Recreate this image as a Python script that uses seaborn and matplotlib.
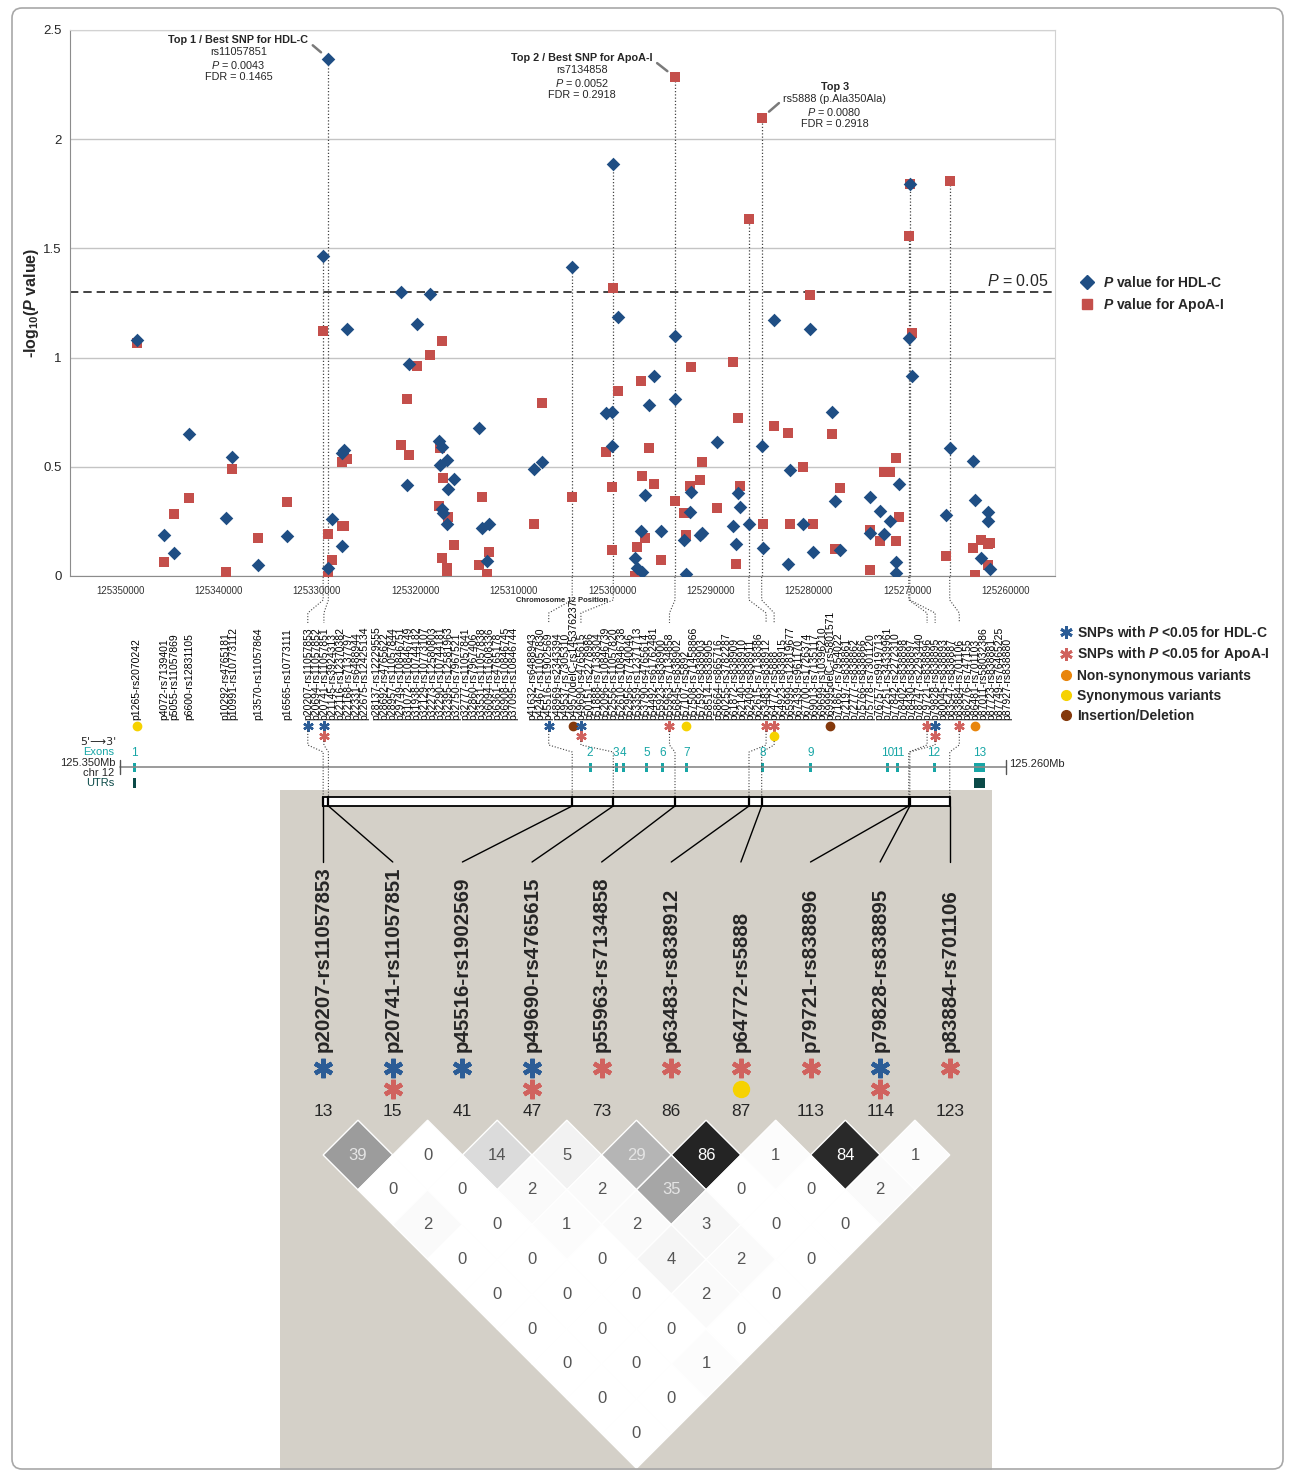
import re

import matplotlib
matplotlib.use("Agg")
import matplotlib.pyplot as plt
import matplotlib.transforms as mtransforms
import numpy as np
import pandas as pd
import seaborn as sns
from matplotlib.lines import Line2D
from matplotlib.patches import FancyBboxPatch, Polygon, Rectangle

W, H, DPI = 1295, 1473, 100
GENE_ORIGIN = 125349580  # chr12 coordinate of relative position p0

# ---------------- data ----------------
snp_names = [
    "p1265-rs2070242", "p4072-rs7139401", "p5055-rs11057869", "p6600-rs12831105",
    "p10292-rs4765181", "p10991-rs10773112", "p13570-rs11057864", "p16565-rs10773111",
    "p20207-rs11057853", "p20694-rs11057852", "p20741-rs11057851", "p21145-rs3924313",
    "p22116-rs12370382", "p22168-rs7137797", "p22331-rs6488944", "p22675-rs12425134",
    "p28137-rs12229555", "p28692-rs4765622", "p28957-rs11057844", "p29749-rs10846751",
    "p31072-rs10846749", "p31938-rs10744182", "p32129-rs10773107", "p32273-rs12580803",
    "p32290-rs10744181", "p32395-rs12581963", "p32750-rs7967521", "p32777-rs11057841",
    "p32860-rs7967406", "p33531-rs11057838", "p36094-rs11608336", "p36361-rs4765178",
    "p36908-rs10846745", "p37095-rs10846744", "p41632-rs6488943", "p42467-rs11057830",
    "p45516-rs1902569", "p48969-rs2343394", "p49537-rs7305310", "p49570delC-rs145376237",
    "p49690-rs4765615", "p50151-rs2278986", "p51888-rs7138304", "p52096-rs10846739",
    "p52556-rs11057820", "p52610-rs10846738", "p52956-rs7740046", "p53359-rs12371713",
    "p53790-rs4765614", "p54492-rs61762481", "p55923-rs838900", "p55963-rs7134858",
    "p56845-rs838902", "p57107-rs5892", "p57508-rs71458866", "p57592-rs838903",
    "p58514-rs838905", "p58664-rs865716", "p60255-rs3782287", "p61872-rs838909",
    "p62140-rs838910", "p62409-rs838911", "p62615-rs7138386", "p63483-rs838912",
    "p64772-rs5888", "p64923-rs838915", "p65999-rs12819677", "p67439-rs961170",
    "p67700-rs1726374", "p69013-rs7135117", "p69699-rs10396210", "p69995delC-rs5801571",
    "p71867-rs7954022", "p72197-rs838861", "p72777-rs838862", "p75766-rs838866",
    "p75778-rs7301120", "p76757-rs9919713", "p77251-rs34339961", "p77842-rs2272310",
    "p78402-rs838898", "p78430-rs838897", "p78747-rs2293440", "p79721-rs838896",
    "p79828-rs838895", "p80045-rs838893", "p83547-rs838887", "p83884-rs701106",
    "p86276-rs747155", "p86481-rs701103", "p87011-rs58032386", "p87723-rs838881",
    "p87749-rs76465225", "p87927-rs838880",
]
hdl_logp = [
    1.081, 0.190, 0.107, 0.650, 0.267, 0.543, 0.050, 0.184,
    1.466, 0.038, 2.369, 0.259, 0.564, 0.136, 0.576, 1.133,
    1.302, 0.417, 0.969, 1.155, 1.293, 0.616, 0.507, 0.305,
    0.590, 0.288, 0.533, 0.240, 0.400, 0.443, 0.676, 0.219,
    0.069, 0.236, 0.490, 0.521, 1.414, 0.748, 0.593, 0.753,
    1.888, 1.184, 0.081, 0.038, 0.205, 0.017, 0.369, 0.784,
    0.914, 0.205, 0.810, 1.098, 0.167, 0.009, 0.293, 0.383,
    0.188, 0.195, 0.612, 0.228, 0.147, 0.378, 0.314, 0.236,
    0.593, 0.128, 1.174, 0.055, 0.486, 0.240, 1.129, 0.112,
    0.753, 0.345, 0.119, 0.360, 0.197, 0.297, 0.193, 0.250,
    0.062, 0.016, 0.421, 1.090, 1.793, 0.914, 0.278, 0.586,
    0.526, 0.348, 0.081, 0.291, 0.253, 0.033,
]
apoa_logp = [
    1.067, 0.064, 0.283, 0.355, 0.017, 0.491, 0.172, 0.338,
    1.124, 0.000, 0.191, 0.074, 0.524, 0.231, 0.228, 0.538,
    0.598, 0.809, 0.555, 0.960, 1.012, 0.322, 0.586, 1.076,
    0.084, 0.448, 0.038, 0.021, 0.271, 0.141, 0.052, 0.360,
    0.007, 0.110, 0.236, 0.793, 0.362, 0.567, 0.119, 0.409,
    1.319, 0.848, 0.000, 0.133, 0.891, 0.460, 0.172, 0.584,
    0.422, 0.072, 0.343, 2.284, 0.288, 0.190, 0.414, 0.957,
    0.440, 0.524, 0.312, 0.978, 0.055, 0.724, 0.414, 1.633,
    2.097, 0.240, 0.688, 0.655, 0.236, 0.497, 1.286, 0.240,
    0.650, 0.124, 0.405, 0.210, 0.029, 0.160, 0.474, 0.474,
    0.540, 0.162, 0.271, 1.557, 1.793, 1.112, 0.090, 1.809,
    0.129, 0.005, 0.164, 0.147, 0.052, 0.150,
]
hdl_sig = ["p20207-rs11057853", "p20741-rs11057851", "p45516-rs1902569",
           "p49690-rs4765615", "p79828-rs838895"]
apoa_sig = ["p20741-rs11057851", "p49690-rs4765615", "p55963-rs7134858",
            "p63483-rs838912", "p64772-rs5888", "p79721-rs838896",
            "p79828-rs838895", "p83884-rs701106"]
nonsynonymous = ["p86481-rs701103"]
synonymous = ["p1265-rs2070242", "p57107-rs5892", "p64772-rs5888"]
indels = ["p49570delC-rs145376237", "p69995delC-rs5801571"]

ld_snp_numbers = [13, 15, 41, 47, 73, 86, 87, 113, 114, 123]
ld_r2 = [
    [39, 0, 14, 5, 29, 86, 1, 84, 1],
    [0, 0, 2, 2, 35, 0, 0, 2],
    [2, 0, 1, 2, 3, 0, 0],
    [0, 0, 0, 4, 2, 0],
    [0, 0, 0, 2, 0],
    [0, 0, 0, 0],
    [0, 0, 1],
    [0, 0],
    [0],
]

exon_numbers = ["1", "2", "3", "4", "5", "6", "7", "8", "9", "10", "11", "12", "13"]
exon_pos = [1006, 47335, 49977, 50721, 53092, 54718, 57157, 64841, 69758,
            77582, 78598, 82286, 86891]
exon_len = [300, 300, 300, 300, 300, 300, 300, 300, 300, 300, 300, 300, 1100]
utr_pos = [1006, 86891]
utr_len = [300, 1100]

top_notes = [
    ("p20741-rs11057851", ["Top 1 / Best SNP for HDL-C", "rs11057851",
                           r"$\mathsf{P}$ = 0.0043", "FDR = 0.1465"]),
    ("p55963-rs7134858", ["Top 2 / Best SNP for ApoA-I", "rs7134858",
                          r"$\mathsf{P}$ = 0.0052", "FDR = 0.2918"]),
    ("p64772-rs5888", ["Top 3", "rs5888 (p.Ala350Ala)",
                       r"$\mathsf{P}$ = 0.0080", "FDR = 0.2918"]),
]

BLUE = "#1f4e84"
RED = "#c44f4b"
STAR_BLUE = "#2b5c96"
STAR_RED = "#d0625e"
ORANGE = "#e8850c"
YELLOW = "#f6d200"
BROWN = "#84390c"
TEAL = "#17a6a6"
DARK_TEAL = "#0b4a48"
LD_BG = "#d4d0c8"
DOT = (0, (1, 1.6))

# ---------------- style ----------------
sns.set_style("white")
plt.rcParams["font.family"] = ["Liberation Sans", "DejaVu Sans"]
plt.rcParams["mathtext.fontset"] = "custom"
plt.rcParams["mathtext.rm"] = "Liberation Sans"
plt.rcParams["mathtext.it"] = "Liberation Sans:italic:bold"
plt.rcParams["mathtext.bf"] = "Liberation Sans:bold"
plt.rcParams["mathtext.sf"] = "Liberation Sans:italic"

df = pd.DataFrame({"snp": snp_names, "HDL-C": hdl_logp, "ApoA-I": apoa_logp})
df["rel_pos"] = [int(re.match(r"p(\d+)", n).group(1)) for n in snp_names]
df["chr_pos"] = GENE_ORIGIN - df["rel_pos"]
df["top"] = df[["HDL-C", "ApoA-I"]].max(axis=1)
ld_snps = [n for n in snp_names if n in hdl_sig or n in apoa_sig]
ld_idx = [snp_names.index(n) for n in ld_snps]

fig = plt.figure(figsize=(W / DPI, H / DPI), dpi=DPI)

# full-figure overlay in pixel units (y down)
ov = fig.add_axes([0, 0, 1, 1], zorder=3)
ov.set_xlim(0, W)
ov.set_ylim(H, 0)
ov.axis("off")

# ---------------- main association plot ----------------
ax = fig.add_axes([70 / W, 1 - 576 / H, 985 / W, 546 / H], zorder=1)
ax.set_facecolor("none")
sns.scatterplot(data=df, x="chr_pos", y="ApoA-I", marker="s", s=48, color=RED,
                linewidth=0, ax=ax, zorder=3)
sns.scatterplot(data=df, x="chr_pos", y="HDL-C", marker="D", s=48, color=BLUE,
                linewidth=0, ax=ax, zorder=4)
ax.set_xlim(125355100, 125255000)
ax.set_ylim(0, 2.5)
xt = np.arange(125350000, 125259999, -10000)
ax.set_xticks(xt)
ax.set_xticklabels([str(t) for t in xt], fontsize=7, color="#333333")
ax.set_xticks(np.arange(125355000, 125254999, -5000), minor=True)
ax.set_yticks([0, 0.5, 1, 1.5, 2, 2.5])
ax.set_yticklabels(["0", "0.5", "1", "1.5", "2", "2.5"], fontsize=9.5)
ax.set_yticks(np.arange(0, 2.51, 0.1), minor=True)
ax.tick_params(axis="both", which="both", direction="out", color="#8c8c8c")
ax.tick_params(axis="x", which="major", length=4, pad=3)
ax.tick_params(axis="x", which="minor", length=3)
ax.tick_params(axis="y", which="major", length=4, pad=2)
ax.tick_params(axis="y", which="minor", length=2.5)
ax.yaxis.grid(True, which="major", color="#c4c4c4", lw=1)
ax.xaxis.grid(False)
for side in ["left", "bottom"]:
    ax.spines[side].set_color("#8c8c8c")
for side in ["top", "right"]:
    ax.spines[side].set_color("#d2d2d2")
ax.set_xlabel("Chromosome 12 Position", fontsize=5.5, fontweight="bold", labelpad=1)
ax.set_ylabel(r"-log$_{\mathbf{10}}$($\it{P}$ value)", fontsize=11.5, fontweight="bold")
ax.yaxis.set_label_coords(-0.029, 0.5)

sig_line = -np.log10(0.05)
ax.axhline(sig_line, color="#222222", lw=1.2, ls=(0, (5, 3)), zorder=2)
ax.text(0.993, sig_line + 0.015, r"$\mathsf{P}$ = 0.05", fontsize=11.5,
        ha="right", va="bottom",
        transform=mtransforms.blended_transform_factory(ax.transAxes, ax.transData))

ld_df = df.iloc[ld_idx]
ax.vlines(ld_df["chr_pos"], 0, ld_df["top"], colors="#444444", lw=0.9,
          linestyles=[DOT], zorder=2)

note_offsets = [(-90, 18.5), (-93, 19), (73, 31)]
note_leader = [0, 0, 1]
note_relpos = [(1.0, 0.35), (1.0, 0.35), (0.0, 0.5)]
for (snp, lines), (dx, dy), li, rp in zip(top_notes, note_offsets, note_leader, note_relpos):
    row = df[df["snp"] == snp].iloc[0]
    xy = (row["chr_pos"], row["top"])
    for i, txt in enumerate(lines):
        kw = dict(xy=xy, xytext=(dx, dy - i * 12.3), textcoords="offset pixels",
                  ha="center", va="center", fontsize=7.8,
                  fontweight="bold" if i == 0 else "normal")
        if i == li:
            kw["arrowprops"] = dict(arrowstyle="-", color="#7a7a7a", lw=1.8,
                                    shrinkA=1, shrinkB=7, relpos=rp)
        ax.annotate(txt, **kw)


# ---------------- SNP label panel ----------------
def spread(targets, gap):
    t = np.asarray(targets, float)
    order = np.argsort(t, kind="stable")
    ts = t[order]
    clusters = [[i] for i in range(len(ts))]

    def place(cl):
        n = len(cl)
        return ts[cl].mean() + (np.arange(n) - (n - 1) / 2) * gap

    changed = True
    while changed:
        changed = False
        merged = [clusters[0]]
        for cl in clusters[1:]:
            if place(merged[-1])[-1] + gap > place(cl)[0] + 1e-9:
                merged[-1] = merged[-1] + cl
                changed = True
            else:
                merged.append(cl)
        clusters = merged
    out = np.empty_like(t)
    for cl in clusters:
        out[order[cl]] = place(cl)
    return out


def to_px(values):
    v = np.asarray(values, float)
    return ax.transData.transform(np.column_stack([v, np.zeros_like(v)]))[:, 0]


x_data = to_px(df["chr_pos"])
x_lab = spread(x_data, 8.05)

for xl, name in zip(x_lab, snp_names):
    ov.text(xl, 720, name, rotation=90, ha="center", va="bottom", fontsize=7.5,
            color="black")

marks_y = {}
for k, name in enumerate(snp_names):
    marks = []
    if name in hdl_sig:
        marks.append(("star", STAR_BLUE))
    if name in apoa_sig:
        marks.append(("star", STAR_RED))
    if name in nonsynonymous:
        marks.append(("dot", ORANGE))
    if name in synonymous:
        marks.append(("dot", YELLOW))
    if name in indels:
        marks.append(("dot", BROWN))
    for r, (kind, col) in enumerate(marks):
        y = 726 + r * 10
        if kind == "star":
            ov.plot(x_lab[k], y, marker=(6, 2, 0), ms=7.5, mew=1.7, mec=col, ls="")
        else:
            ov.plot(x_lab[k], y, marker="o", ms=6, mfc=col, mec=col, ls="")
    marks_y[name] = 726 + (len(marks) - 1) * 10

# gene track
g_left, g_right = to_px([125350000, 125260000])
ov.plot([g_left, g_right], [767, 767], color="#8a8a8a", lw=1.2)
for gx in (g_left, g_right):
    ov.plot([gx, gx], [760, 774], color="#555555", lw=1)
ov.text(g_right + 3, 764, "125.260Mb", fontsize=8, va="center", ha="left")
ov.text(116, 742, "5'\u27f63'", fontsize=8, ha="right", va="center",
        family=["DejaVu Sans"])
ov.text(114, 752, "Exons", fontsize=8, ha="right", va="center", color=TEAL)
ov.text(116, 763, "125.350Mb", fontsize=8, ha="right", va="center")
ov.text(114, 773, "chr 12", fontsize=8, ha="right", va="center")
ov.text(114, 783, "UTRs", fontsize=8, ha="right", va="center", color=DARK_TEAL)

ex_c = to_px(GENE_ORIGIN - np.asarray(exon_pos))
ex_w = np.maximum(np.abs(to_px(GENE_ORIGIN - np.asarray(exon_len)) - to_px([GENE_ORIGIN])), 3)
for lab, cx, w in zip(exon_numbers, ex_c, ex_w):
    ov.add_patch(Rectangle((cx - w / 2, 762.5), w, 9.5, color=TEAL, lw=0))
    ov.text(cx, 752.5, lab, fontsize=8.5, ha="center", va="center", color=TEAL)
utr_c = to_px(GENE_ORIGIN - np.asarray(utr_pos))
utr_w = np.maximum(np.abs(to_px(GENE_ORIGIN - np.asarray(utr_len)) - to_px([GENE_ORIGIN])), 3)
for cx, w in zip(utr_c, utr_w):
    ov.add_patch(Rectangle((cx - w / 2, 778), w, 9.5, color=DARK_TEAL, lw=0))

# ---------------- LD block ----------------
x0, x1 = x_data[ld_idx[0]], x_data[ld_idx[-1]]
step = (x1 - x0) / (len(ld_idx) - 1)
ld_ax = fig.add_axes([280 / W, 1 - 1470 / H, 712 / W, 680 / H], zorder=2)
ld_ax.set_facecolor(LD_BG)
ld_ax.set_xticks([])
ld_ax.set_yticks([])
for sp in ld_ax.spines.values():
    sp.set_visible(False)
ld_ax.set_xlim((280 - x0) / step, (992 - x0) / step)
ld_ax.set_ylim((1470 - 1155) / step, (790 - 1155) / step)


def w_of(py):
    return (py - 1155) / step


for d, row in enumerate(ld_r2):
    for i, val in enumerate(row):
        j = i + d + 1
        cx, cy = (i + j) / 2, d / 2
        grey = 1 - val / 100
        ld_ax.add_patch(Polygon([(cx - 0.5, cy), (cx, cy - 0.5), (cx + 0.5, cy), (cx, cy + 0.5)],
                                closed=True, fc=(grey, grey, grey), ec="white", lw=1))
        tc = "white" if val > 60 else ("#e4e4e4" if val >= 25 else "#555555")
        ld_ax.text(cx, cy, str(val), ha="center", va="center", fontsize=12, color=tc)

for k, name in enumerate(ld_snps):
    ld_ax.text(k, w_of(1052), name, rotation=90, ha="center", va="bottom",
               fontsize=14.8, fontweight="bold")
    rows = []
    if name in hdl_sig:
        rows.append(("star", STAR_BLUE))
    if name in apoa_sig:
        rows.append(("star", STAR_RED))
    if name in synonymous:
        rows.append(("dot", YELLOW))
    for r, (kind, col) in enumerate(rows):
        y = w_of(1068 + r * 21)
        if kind == "star":
            ld_ax.plot(k, y, marker=(6, 2, 0), ms=14, mew=3.2, mec=col, ls="")
        else:
            ld_ax.plot(k, y, marker="o", ms=11.5, mfc=col, mec=col, ls="")
    ld_ax.text(k, w_of(1111), str(ld_snp_numbers[k]), ha="center", va="center",
               fontsize=12.5)

col_px = ld_ax.transData.transform(np.column_stack([np.arange(len(ld_snps)),
                                                   np.zeros(len(ld_snps))]))[:, 0]
ov.add_patch(Rectangle((x0, 797), x1 - x0, 9, fc="white", ec="black", lw=1.3))
for k, name in enumerate(ld_snps):
    xd = x_data[ld_idx[k]]
    xl = x_lab[ld_idx[k]]
    ov.plot([xd, xd, xl, xl], [577, 600, 613, 623], color="#444444", lw=0.8, ls=DOT)
    ov.plot([xl, xl, xd, xd], [marks_y[name] + 5, 745, 752, 797], color="#444444",
            lw=0.8, ls=DOT)
    ov.plot([xd, xd], [797, 806], color="black", lw=1.6)
    ov.plot([xd, col_px[k]], [806, 862], color="black", lw=1)

# ---------------- legends ----------------
leg1 = [
    Line2D([], [], marker="D", ls="", color=BLUE, ms=7.5),
    Line2D([], [], marker="s", ls="", color=RED, ms=7.5),
]
fig.legend(leg1, [r"$\it{P}$ value for HDL-C", r"$\it{P}$ value for ApoA-I"],
           loc="upper left", bbox_to_anchor=(1074 / W, 1 - 269 / H), frameon=False,
           prop=dict(weight="bold", size=10), handlelength=1.0, handletextpad=0.7,
           labelspacing=0.45, borderaxespad=0)
leg2 = [
    Line2D([], [], marker=(6, 2, 0), ls="", mec=STAR_BLUE, ms=9, mew=2),
    Line2D([], [], marker=(6, 2, 0), ls="", mec=STAR_RED, ms=9, mew=2),
    Line2D([], [], marker="o", ls="", color=ORANGE, ms=7),
    Line2D([], [], marker="o", ls="", color=YELLOW, ms=7),
    Line2D([], [], marker="o", ls="", color=BROWN, ms=7),
]
fig.legend(leg2, [r"SNPs with $\it{P}$ <0.05 for HDL-C",
                  r"SNPs with $\it{P}$ <0.05 for ApoA-I",
                  "Non-synonymous variants", "Synonymous variants", "Insertion/Deletion"],
           loc="upper left", bbox_to_anchor=(1053 / W, 1 - 619 / H), frameon=False,
           prop=dict(weight="bold", size=10), handlelength=1.0, handletextpad=0.35,
           labelspacing=0.42, borderaxespad=0)

# rounded frame
ov.add_patch(FancyBboxPatch((12, 8), W - 24, H - 12, boxstyle="round,pad=0,rounding_size=10",
                            fill=False, ec="#a8a8a8", lw=1.2, zorder=0))

fig.savefig("out.png", dpi=DPI)
